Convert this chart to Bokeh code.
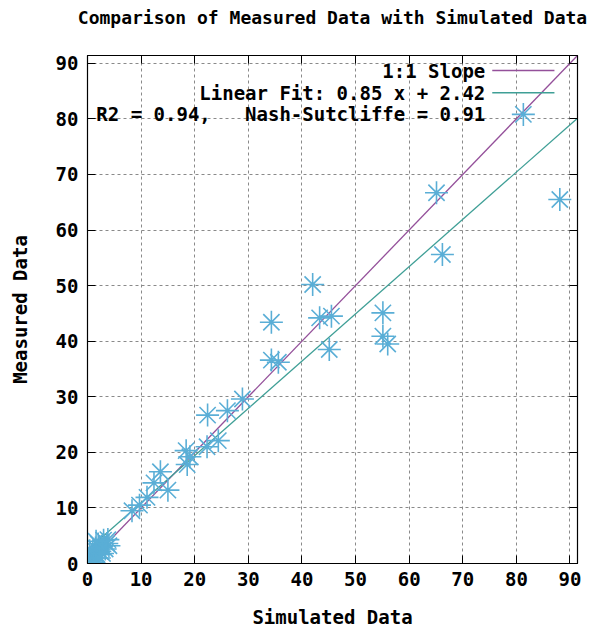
from bokeh.plotting import figure
from bokeh.models import Range1d, FixedTicker, LinearAxis, Label, CustomJSTickFormatter
from bokeh.embed import file_html
from bokeh.resources import INLINE

# ---- data ----
simulated = [0.2, 0.5, 0.8, 1.0, 1.2, 1.5, 1.8, 2.0, 2.3, 2.6, 3.0, 3.3, 3.6, 4.0,
             0.4, 1.1, 2.8, 3.8, 1.6, 2.2,
             8.3, 9.7, 11.1, 12.4, 13.6, 15.0,
             18.4, 19.1, 18.6, 22.3, 22.4, 24.4, 26.1, 28.9,
             34.3, 34.3, 35.6, 42.0, 43.3, 45.5, 45.1, 55.1, 55.1, 56.0,
             65.1, 66.2, 88.1]
measured = [0.3, 1.2, 0.5, 2.0, 1.0, 2.8, 1.6, 3.5, 2.2, 3.0, 4.2, 2.6, 3.6, 3.2,
            2.3, 0.2, 1.8, 4.3, 4.0, 1.0,
            9.5, 10.5, 11.9, 14.5, 16.5, 13.2,
            20.3, 19.2, 17.8, 21.0, 26.7, 22.1, 27.5, 29.6,
            43.4, 36.6, 36.2, 50.2, 44.2, 44.5, 38.5, 45.1, 40.9, 39.5,
            66.7, 55.6, 65.5]
fit_slope = 0.85
fit_intercept = 2.42
r2 = 0.94
nash_sutcliffe = 0.91
ticks = [0, 10, 20, 30, 40, 50, 60, 70, 80, 90]
axis_max = 91.4
title_text = "Comparison of Measured Data with Simulated Data"

FONT = "DejaVu Sans Mono"
FS = "19px"

p = figure(width=598, height=632, output_backend="svg", toolbar_location=None,
           x_range=Range1d(0, axis_max), y_range=Range1d(0, axis_max),
           min_border_left=87, min_border_right=21, min_border_top=55, min_border_bottom=69)
p.outline_line_color = "black"
p.outline_line_width = 1.2

for ax in (p.xaxis[0], p.yaxis[0]):
    ax.ticker = FixedTicker(ticks=ticks)
    ax.major_tick_in = 8
    ax.major_tick_out = 0
    ax.minor_tick_in = 0
    ax.minor_tick_out = 0
    ax.axis_line_color = "black"
    ax.major_tick_line_color = "black"
    ax.major_label_text_font = FONT
    ax.major_label_text_font_size = FS
    ax.major_label_text_font_style = "bold"
    ax.major_label_text_color = "black"
    ax.axis_label_text_font = FONT
    ax.axis_label_text_font_size = FS
    ax.axis_label_text_font_style = "bold"
    ax.axis_label_text_color = "black"

p.xaxis.axis_label = "Simulated Data"
p.yaxis.axis_label = "Measured Data"
p.xaxis.major_label_standoff = 8
p.xaxis.axis_label_standoff = 17
p.yaxis.major_label_standoff = 9
p.yaxis.axis_label_standoff = 22

# mirrored ticks on the right and top (gnuplot border style); the top one carries the title
mirror = {}
for side in ("right", "above"):
    ax = LinearAxis(ticker=FixedTicker(ticks=ticks), major_tick_in=8, major_tick_out=0,
                    minor_tick_in=0, minor_tick_out=0,
                    formatter=CustomJSTickFormatter(code="return ''"),
                    major_label_text_font_size="1px",
                    axis_line_color="black", major_tick_line_color="black",
                    major_label_standoff=0)
    p.add_layout(ax, side)
    mirror[side] = ax
top_ax = mirror["above"]
top_ax.axis_label = title_text
top_ax.axis_label_text_font = FONT
top_ax.axis_label_text_font_size = "18px"
top_ax.axis_label_text_font_style = "bold"
top_ax.axis_label_text_color = "black"
top_ax.axis_label_standoff = 28

for g in (p.xgrid[0], p.ygrid[0]):
    g.ticker = FixedTicker(ticks=ticks)
    g.grid_line_color = "#8a8a8a"
    g.grid_line_dash = "3 3"
    g.grid_line_width = 1

PURPLE = "#94509a"
TEAL = "#3f9f96"
STAR = "#5aaed6"

# 1:1 slope and linear fit lines
p.line([0, axis_max], [0, axis_max], line_color=PURPLE, line_width=1.3)
p.line([0, axis_max], [fit_intercept, fit_slope * axis_max + fit_intercept],
       line_color=TEAL, line_width=1.3)

# data points
p.scatter(simulated, measured, marker="asterisk", size=23, line_color=STAR, line_width=1.6)

# gnuplot-style key (text right-aligned, sample on the right)
NB = "\u00a0"
key_text_x = 74.2
key_rows = [88.7, 84.7, 80.8]
key_x0, key_x1 = 75.5, 87.1
key_texts = ["1:1 Slope",
             "Linear Fit: %.2f x + %.2f" % (fit_slope, fit_intercept),
             "R2 = %.2f,%sNash-Sutcliffe = %.2f" % (r2, NB * 3, nash_sutcliffe)]
for t, yy in zip(key_texts, key_rows):
    p.add_layout(Label(x=key_text_x, y=yy, text=t, text_align="right", text_baseline="middle",
                       text_font=FONT, text_font_size=FS, text_font_style="bold",
                       text_color="black"))
p.segment(x0=[key_x0], y0=[key_rows[0]], x1=[key_x1], y1=[key_rows[0]], line_color=PURPLE, line_width=1.3)
p.segment(x0=[key_x0], y0=[key_rows[1]], x1=[key_x1], y1=[key_rows[1]], line_color=TEAL, line_width=1.3)
p.scatter([(key_x0 + key_x1) / 2], [key_rows[2]], marker="asterisk", size=23,
          line_color=STAR, line_width=1.6)

open("out.html", "w").write(file_html(p, INLINE))
